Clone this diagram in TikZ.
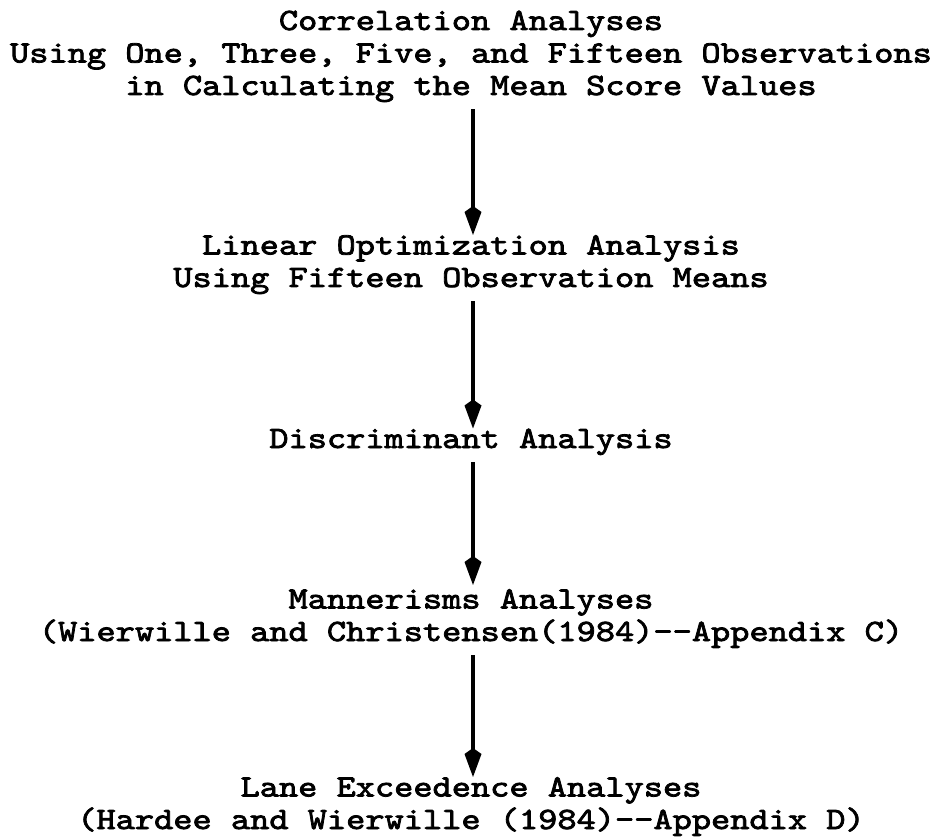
\documentclass[tikz,border=0pt]{standalone}
\usepackage{fontspec}
\newfontfamily\cour[FakeStretch=1.18,FakeBold=2.5]{lmmono10-regular.otf}
\usetikzlibrary{arrows.meta}
\begin{document}
\begin{tikzpicture}[x=1pt,y=-1pt,
  blk/.style={align=center, inner sep=0pt, anchor=base, font=\cour\fontsize{31}{32.5}\selectfont},
  arr/.style={line width=3.5pt, shorten <=7pt, -{Kite[length=29pt,width=17pt,inset=6pt]}}]
\useasboundingbox (0,0) rectangle (935,837);
\node[blk] (b1) at (471,95) {Correlation Analyses\\Using One, Three, Five, and Fifteen Observations\\in Calculating the Mean Score Values};
\node[blk] (b2) at (471,287) {Linear Optimization Analysis\\Using Fifteen Observation Means};
\node[blk] (b3) at (471,448) {Discriminant Analysis};
\node[blk] (b4) at (471,641) {Mannerisms Analyses\\(Wierwille and Christensen(1984)--Appendix C)};
\node[blk] (b5) at (471,829) {Lane Exceedence Analyses\\(Hardee and Wierwille (1984)--Appendix D)};
\draw[arr] ([xshift=2pt]b1.south) -- ([xshift=2pt]b2.north);
\draw[arr] ([xshift=2pt]b2.south) -- ([xshift=2pt]b3.north);
\draw[arr, shorten >=4pt] ([xshift=2pt]b3.south) -- ([xshift=2pt]b4.north);
\draw[arr] ([xshift=2pt]b4.south) -- ([xshift=2pt]b5.north);
\end{tikzpicture}
\end{document}
